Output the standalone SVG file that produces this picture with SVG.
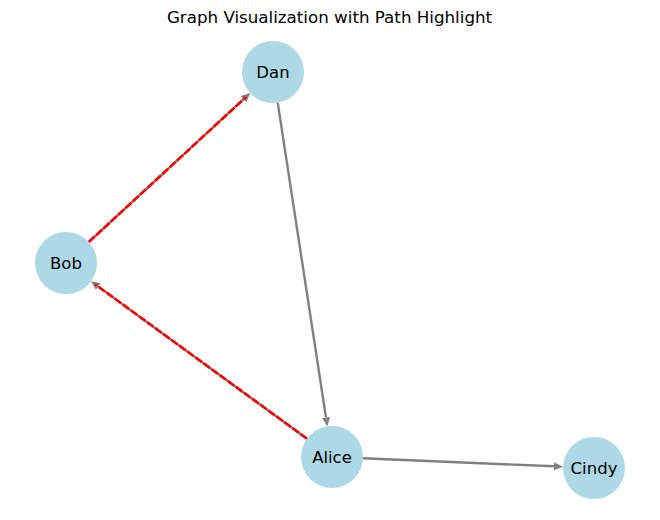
<svg xmlns="http://www.w3.org/2000/svg" width="660" height="520" viewBox="0 0 660 520">
<style>
.node{fill:#add8e6}
.lbl{font-family:"DejaVu Sans",sans-serif;font-size:16.5px;fill:#000;text-anchor:middle;dominant-baseline:central}
.title{font-family:"DejaVu Sans",sans-serif;font-size:16.7px;fill:#000;text-anchor:middle}
.edge{stroke:#808080;stroke-width:2.4;fill:none}
.hl{stroke:#ff0000;stroke-width:2.6;fill:none;stroke-dasharray:8,2}
</style>
<defs>
<marker id="arr" markerUnits="userSpaceOnUse" markerWidth="10" markerHeight="9" refX="0" refY="4" orient="auto">
<path d="M0,0 L9,4 L0,8 z" fill="#808080"/>
</marker>
</defs>
<rect width="660" height="520" fill="#fff"/>
<text class="title" x="329.5" y="23">Graph Visualization with Path Highlight</text>
<g id="connectors">
<line class="edge" x1="88.8" y1="242" x2="243.6" y2="99.1" marker-end="url(#arr)"/>
<line class="edge" x1="277.7" y1="102.6" x2="326" y2="417.5" marker-end="url(#arr)"/>
<line class="edge" x1="307" y1="438.7" x2="98.3" y2="286.6" marker-end="url(#arr)"/>
<line class="edge" x1="363" y1="458.3" x2="554" y2="466.3" marker-end="url(#arr)"/>
<line class="hl" x1="88.8" y1="242" x2="246" y2="97"/>
<line class="hl" x1="307" y1="438.7" x2="95" y2="284.2"/>
</g>
<g id="node-dan"><circle class="node" cx="273" cy="72" r="31"/><text class="lbl" x="273" y="72">Dan</text></g>
<g id="node-bob"><circle class="node" cx="66" cy="263" r="31"/><text class="lbl" x="66" y="263">Bob</text></g>
<g id="node-alice"><circle class="node" cx="332" cy="457" r="31"/><text class="lbl" x="332" y="457">Alice</text></g>
<g id="node-cindy"><circle class="node" cx="594" cy="468" r="31"/><text class="lbl" x="594" y="468">Cindy</text></g>
</svg>
